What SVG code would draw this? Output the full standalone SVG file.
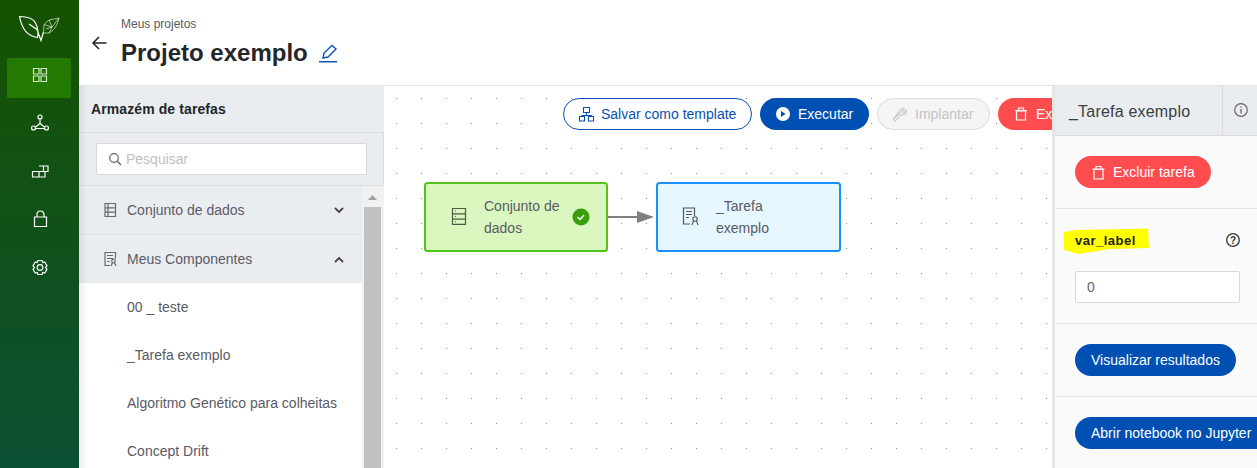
<svg xmlns="http://www.w3.org/2000/svg" width="1257" height="468" viewBox="0 0 1257 468">
<style>
text{font-family:"Liberation Sans",Arial,sans-serif;font-size:14px;fill:#5a5a63}
.ws{fill:none;stroke:#fff;stroke-width:1.200}
.g{fill:none;stroke:#666a6e;stroke-width:1.200}
.sep{fill:#e3e5e8}
</style>
<defs>
<linearGradient id="side" x1="0" y1="0" x2="0" y2="1"><stop offset="0" stop-color="#155300"/><stop offset="1" stop-color="#0b4f34"/></linearGradient>
<linearGradient id="shade" x1="0" y1="0" x2="1" y2="0"><stop offset="0" stop-color="#000" stop-opacity=".07"/><stop offset="1" stop-color="#000" stop-opacity="0"/></linearGradient>
<pattern id="dots" x="396" y="98" width="25" height="25" patternUnits="userSpaceOnUse"><rect width="1" height="1" fill="#8a8a8a"/></pattern>
</defs>
<rect width="1257" height="468" fill="#fff"/>
<rect x="384" y="86" width="670" height="382" fill="url(#dots)"/>

<g id="sidebar">
<rect width="79" height="468" fill="url(#side)"/>
<rect x="7" y="58" width="64" height="40" rx="1.500" fill="#237a00"/>
<path class="ws" d="M19.500 16.500C27 16.500 33 18 35.500 23C37.500 27 38.500 33 37.500 37.500C29 36.500 22 30 19.500 16.500ZM29 24L37 29.500L41 40.500L43.500 32"/>
<path d="M44 24.500L49 20L59 18C57.500 24 55 30 49 33L43.500 33ZM44 24.500L52 27L49 33M49 20L52 27L59 18M46 29L52 27" fill="none" stroke="#dcebd6" stroke-width=".7"/>
<path d="M33.500 68.500h5.500v5.500h-5.500zM41 68.500h5.500v5.500h-5.500zM33.500 76h5.500v5.500h-5.500zM41 76h5.500v5.500h-5.500z" fill="none" stroke="#d8e8cf" stroke-width="1.200"/>
<circle class="ws" cx="40" cy="117" r="2"/><circle class="ws" cx="33.500" cy="128" r="2"/><circle class="ws" cx="46.500" cy="128" r="2"/><path class="ws" d="M40 119V123.500M40 123.500L35.500 127M40 123.500L44.500 127M35.500 128.500H44.500"/>
<path class="ws" d="M32.500 171.500h6.500v5.500h-6.500zM39 171.500h6v5.500h-6zM39 166h9v5.500h-3M43.500 166v5.500"/>
<path class="ws" d="M34.500 217h12v9.500h-12zM37 217v-2.500a3.500 3.500 0 0 1 7 0v2.500"/>
<circle class="ws" cx="40" cy="267.500" r="2.800"/><path class="ws" d="M38 260.500h4l.7 2 2-.6 2.300 3.800-1.500 1.800 1.500 1.800-2.300 3.800-2-.6-.7 2h-4l-.7-2-2 .6-2.300-3.800 1.500-1.800-1.500-1.800 2.300-3.800 2 .6z"/>
</g>

<g id="header">
<rect x="79" y="85" width="1178" height="1" fill="#dfe1e4"/>
<text x="121" y="28" style="font-size:12px">Meus projetos</text>
<text x="121" y="61" style="font-size:24px;font-weight:bold;fill:#23262b">Projeto exemplo</text>
<path d="M106.500 43H93.500M99 37L93 43L99 49" fill="none" stroke="#222" stroke-width="1.500"/>
<path d="M323 58L324 53L332 45.500L336 49L328 57Z" fill="none" stroke="#0a55b8" stroke-width="1.400"/>
<rect x="319" y="61" width="18" height="1.500" fill="#0a55b8"/>
</g>

<g id="task-panel">
<rect x="79" y="86" width="305" height="382" fill="#fff"/>
<rect x="79" y="86" width="305" height="100" fill="#eaedf0"/>
<path d="M79 132.500H383.500V185.500H79" fill="none" stroke="#dcdee1"/>
<text x="91" y="114" style="font-weight:bold;fill:#23262b;letter-spacing:.1px">Armazém de tarefas</text>
<rect x="96.500" y="143.500" width="270" height="31" rx="1.500" fill="#fff" stroke="#d9d9d9"/>
<circle cx="114" cy="158" r="4.300" fill="none" stroke="#666" stroke-width="1.200"/><path d="M117 161L121 165" stroke="#666" stroke-width="1.400"/>
<text x="126" y="164" style="fill:#bfbfbf">Pesquisar</text>
<rect x="79" y="186" width="283" height="97" fill="#eaedf0"/>
<rect x="79" y="234" width="283" height="1" fill="#e1e3e6"/>
<path class="g" d="M105 203.500h10.500v13h-10.500zM108 203.500v13M105 207.800h10.500M105 212.200h10.500"/>
<text x="127" y="215" style="fill:#5b5b66">Conjunto de dados</text>
<path d="M335 208L339 212L343 208" fill="none" stroke="#444" stroke-width="1.800"/>
<path class="g" d="M110 265.500h-5v-13h10.500v6M107 255.500h6M107 258.500h6M107 261.500h2.500"/><circle class="g" cx="113.500" cy="261" r="1.800"/><path class="g" d="M111 266l1.500-3.500M116 266l-1.500-3.500"/>
<text x="127" y="264" style="fill:#5b5b66">Meus Componentes</text>
<path d="M335 262L339 258L343 262" fill="none" stroke="#444" stroke-width="1.800"/>
<text x="127" y="312">00 _ teste</text>
<text x="127" y="360">_Tarefa exemplo</text>
<text x="127" y="408">Algoritmo Genético para colheitas</text>
<text x="127" y="456">Concept Drift</text>
<rect x="362" y="186" width="22" height="282" fill="#f1f1f1"/>
<rect x="364" y="207" width="17" height="261" fill="#c1c1c1"/>
<path d="M368 200L372.500 195L377 200Z" fill="#a3a3a3"/>
<rect x="79" y="86" width="8" height="382" fill="url(#shade)"/>
</g>

<g id="toolbar">
<g id="btn-save"><rect x="563.500" y="98.500" width="188" height="31" rx="15.500" fill="#fff" stroke="#0a4fb0"/>
<path d="M583.500 107.500h6v5h-6zM586.500 112.500v3M581.800 115.500h9.500v1M581.800 115.500v1M579.500 116.500h5v4.500h-5zM588.500 116.500h5v4.500h-5z" fill="none" stroke="#0a4fb0" stroke-width="1.100"/>
<text x="601" y="119" style="fill:#0a4fb0">Salvar como template</text></g>
<g id="btn-run"><rect x="760" y="98" width="109" height="32" rx="16" fill="#0050b3"/><circle cx="783" cy="114" r="7" fill="#fff"/><path d="M781 111l4.500 3-4.500 3z" fill="#0050b3"/><text x="798" y="119" style="fill:#fff">Executar</text></g>
<g id="btn-deploy"><rect x="877.500" y="98.500" width="112" height="31" rx="15.500" fill="#f5f5f5" stroke="#dcdcdc"/><path d="M894 118.500L900.500 112.500M899.500 111a4 4 0 0 1 5-2.500l-2.500 2.500 1.800 1.800 2.500-2.500a4 4 0 0 1-5 4.500l-6 6.200-2-2z" fill="none" stroke="#c9c9c9" stroke-width="1.200"/><text x="915" y="119" style="fill:#c4c4c4">Implantar</text></g>
<g id="btn-delete"><rect x="998" y="98" width="90" height="32" rx="16" fill="#ff4d4f"/><path d="M1016.500 111h9v9h-9zM1015 110.500h12M1018.500 110v-2h5v2" fill="none" stroke="#fff" stroke-width="1.200"/><text x="1036" y="119" style="fill:#fff">Exc</text></g>
</g>

<g id="connectors">
<path d="M608 217H638" fill="none" stroke="#808080" stroke-width="2"/>
<path d="M637 211L654 217L637 223Z" fill="#808080"/>
</g>

<g id="node-dataset">
<rect x="425" y="183" width="182" height="68" rx="2.500" fill="#d9f7be" stroke="#52c41a" stroke-width="2"/>
<path d="M452.500 208.500h13v5.300h-13zM452.500 213.800h13v5.300h-13zM452.500 219.100h13v5.300h-13zM455 211h.8M455 216.300h.8M455 221.600h.8" fill="none" stroke="#4f5b47" stroke-width="1.200"/>
<text x="484" y="211">Conjunto de</text>
<text x="484" y="233">dados</text>
<circle cx="581" cy="217" r="8.500" fill="#389e0d"/><path d="M577.500 217l2.500 2.500 4-4.500" fill="none" stroke="#fff" stroke-width="1.400"/>
</g>

<g id="node-task">
<rect x="657" y="183" width="183" height="68" rx="2.500" fill="#e6f7ff" stroke="#1890ff" stroke-width="2"/>
<path d="M690 224h-6.500v-16h11v8M686 211.500h6M686 214.500h6M686 217.500h3" fill="none" stroke="#555" stroke-width="1.200"/><circle cx="695" cy="219" r="2.200" fill="none" stroke="#555" stroke-width="1.100"/><path d="M692 225l1.500-4M698 225l-1.500-4" fill="none" stroke="#555" stroke-width="1.100"/>
<text x="716" y="211">_Tarefa</text>
<text x="716" y="233">exemplo</text>
</g>

<g id="props-panel">
<rect x="1053" y="86" width="204" height="382" fill="#fafafa"/>
<rect x="1052" y="86" width="3" height="382" fill="#e5e5e5"/>
<rect x="1055" y="86" width="202" height="49" fill="#eaedf0"/>
<rect x="1055" y="135" width="202" height="1" fill="#d9dbde"/>
<rect x="1222" y="86" width="1" height="49" fill="#d9dbde"/>
<text x="1069" y="117" style="font-size:16px;fill:#3a3d42;letter-spacing:.2px">_Tarefa exemplo</text>
<circle cx="1241" cy="110" r="6.300" fill="none" stroke="#666" stroke-width="1.200"/><path d="M1241 109v4.500M1241 106.500v1.300" stroke="#666" stroke-width="1.300"/>
<rect x="1075" y="156" width="136" height="32" rx="16" fill="#ff4d4f"/>
<path d="M1094 169.500h9v9.500h-9zM1092.500 169h12M1096 168.500v-2h5v2" fill="none" stroke="#fff" stroke-width="1.200"/>
<text x="1113" y="177" style="fill:#fff">Excluir tarefa</text>
<rect x="1055" y="208" width="202" height="1" class="sep"/>
<path d="M1063.500 232L1076 230L1148 228.500L1149 248L1110 249L1078 254L1064 250Z" fill="#ffff00"/>
<text x="1075" y="245" style="font-size:13px;font-weight:bold;fill:#222;letter-spacing:.5px">var_label</text>
<circle cx="1233" cy="240" r="6.300" fill="none" stroke="#333" stroke-width="1.300"/><text x="1233" y="244" text-anchor="middle" style="font-size:10px;font-weight:bold;fill:#333">?</text>
<rect x="1075.500" y="271.500" width="164" height="31" rx="1.500" fill="#fff" stroke="#d9d9d9"/>
<text x="1087" y="292" style="fill:#666">0</text>
<rect x="1055" y="323" width="202" height="1" class="sep"/>
<rect x="1075" y="344" width="161" height="32" rx="16" fill="#0050b3"/>
<text x="1091" y="365" style="fill:#fff">Visualizar resultados</text>
<rect x="1055" y="396" width="202" height="1" class="sep"/>
<rect x="1075" y="417" width="200" height="32" rx="16" fill="#0050b3"/>
<text x="1091" y="438" style="fill:#fff">Abrir notebook no Jupyter</text>
</g>
</svg>
